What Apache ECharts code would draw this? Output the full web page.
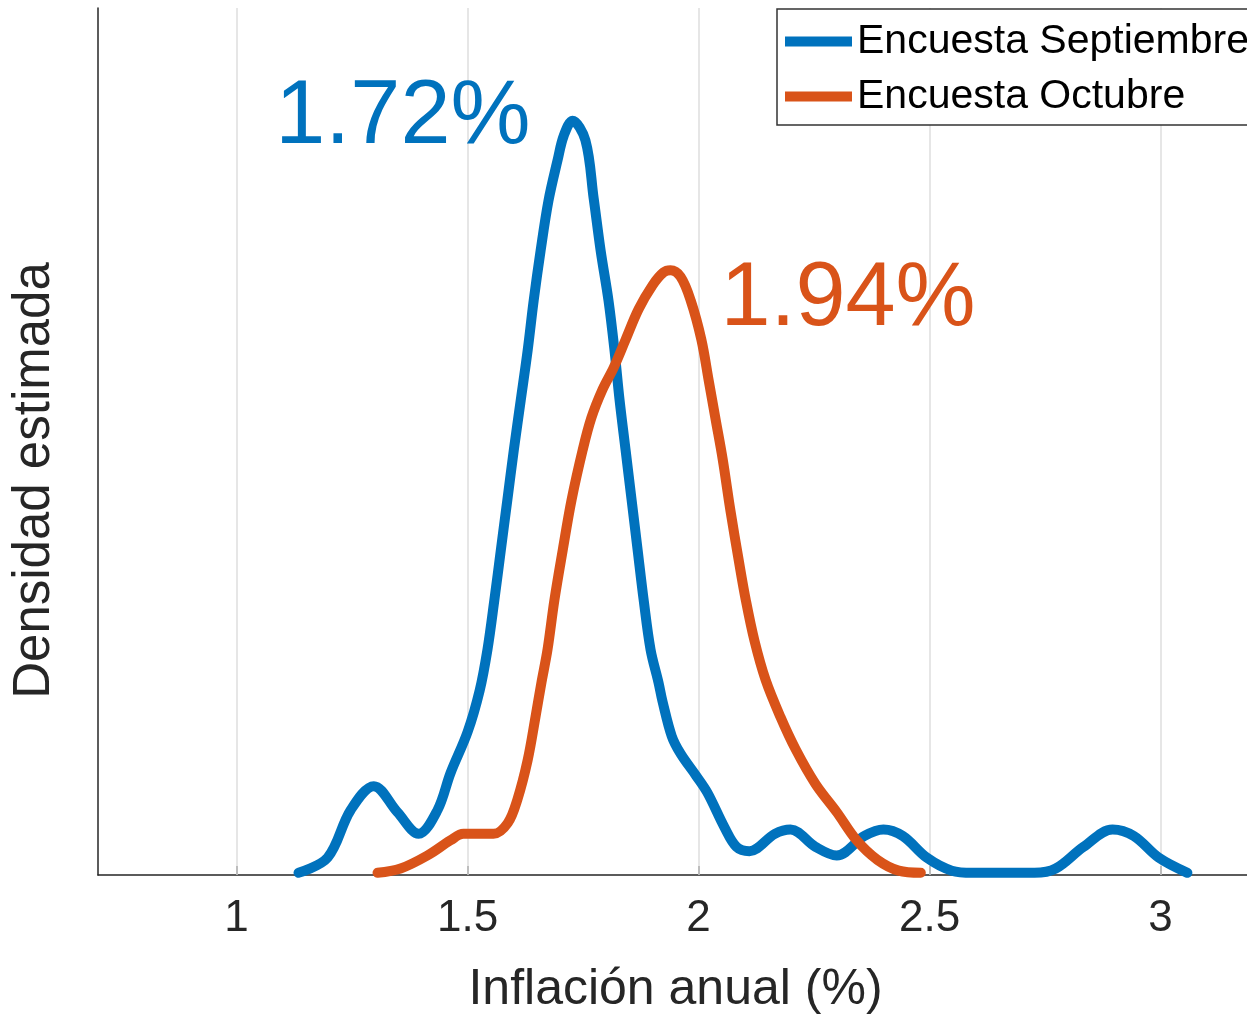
<!DOCTYPE html>
<html>
<head>
<meta charset="utf-8" />
<title>Densidad estimada</title>
<script src="https://cdn.jsdelivr.net/npm/echarts@6/dist/echarts.min.js"></script>
<style>
  html, body { margin: 0; padding: 0; background: #fff; }
  #chart { width: 1247px; height: 1014px; }
</style>
</head>
<body>
<div id="chart"></div>
<script>
// Encuesta Septiembre
const xSept = [1.134, 1.197, 1.247, 1.297, 1.348, 1.394, 1.435, 1.463, 1.5, 1.526, 1.543, 1.558,
  1.572, 1.586, 1.6, 1.615, 1.63, 1.643, 1.658, 1.675, 1.695, 1.708, 1.727, 1.755, 1.773, 1.788,
  1.805, 1.818, 1.829, 1.842, 1.855, 1.868, 1.881, 1.896, 1.913, 1.922, 1.942, 1.961, 1.994, 2.019, 2.056,
  2.082, 2.11, 2.165, 2.199, 2.253, 2.299, 2.359, 2.4, 2.442, 2.494, 2.548, 2.593, 2.727, 2.773,
  2.833, 2.896, 2.942, 2.996, 3.058];
const ySept = [0.01, 0.08, 0.3, 0.41, 0.29, 0.19, 0.3, 0.47, 0.66, 0.85, 1.04, 1.27,
  1.5, 1.73, 1.96, 2.19, 2.42, 2.65, 2.88, 3.11, 3.3, 3.41, 3.48, 3.39, 3.12, 2.88,
  2.65, 2.42, 2.19, 1.96, 1.73, 1.5, 1.27, 1.04, 0.89, 0.8, 0.64, 0.56, 0.46, 0.38, 0.22,
  0.13, 0.11, 0.19, 0.21, 0.13, 0.09, 0.18, 0.21, 0.18, 0.08, 0.02, 0.01, 0.01, 0.03,
  0.13, 0.21, 0.18, 0.08, 0.01];

// Encuesta Octubre
const xOct = [1.305, 1.355, 1.413, 1.463, 1.491, 1.556, 1.587, 1.608, 1.63, 1.647, 1.66, 1.673,
  1.688, 1.706, 1.725, 1.749, 1.768, 1.792, 1.816, 1.842, 1.87, 1.9, 1.924, 1.939, 1.961,
  1.983, 2.006, 2.022, 2.037, 2.052, 2.069, 2.087, 2.102, 2.121, 2.145, 2.177, 2.21, 2.253,
  2.299, 2.342, 2.387, 2.433, 2.481];
const yOct = [0.01, 0.03, 0.09, 0.16, 0.19, 0.19, 0.24, 0.35, 0.53, 0.73, 0.89, 1.04,
  1.27, 1.5, 1.73, 1.96, 2.11, 2.24, 2.34, 2.47, 2.61, 2.72, 2.78, 2.79, 2.76,
  2.65, 2.47, 2.28, 2.1, 1.92, 1.68, 1.45, 1.27, 1.08, 0.9, 0.73, 0.58, 0.42,
  0.29, 0.16, 0.07, 0.02, 0.01];

const seriesNames = ["Encuesta Septiembre", "Encuesta Octubre"];
const peakLabels = ["1.72%", "1.94%"];
const xTicks = [1, 1.5, 2, 2.5, 3];

const FONT = "'Liberation Sans', Arial, Helvetica, sans-serif";
const BLUE = "#0072BD";
const ORANGE = "#D95319";

function pairs(xs, ys) {
  return xs.map((x, i) => [x, ys[i]]);
}

function peakOf(xs, ys) {
  let k = 0;
  ys.forEach((v, i) => { if (v > ys[k]) k = i; });
  return [xs[k], ys[k]];
}

const chart = echarts.init(document.getElementById("chart"));

chart.setOption({
  animation: false,
  textStyle: { fontFamily: FONT },
  grid: {
    left: 98,
    right: -6,
    top: 8,
    bottom: 139,
    outerBoundsMode: "none",
    containLabel: false,
  },
  legend: {
    orient: "vertical",
    left: 777,
    top: 9,
    data: seriesNames,
    icon: "rect",
    itemWidth: 67,
    itemHeight: 10,
    itemGap: 14,
    padding: [12, 8, 8, 8],
    borderColor: "#333",
    borderWidth: 1.5,
    backgroundColor: "#fff",
    textStyle: { fontSize: 41, color: "#000", fontFamily: FONT },
  },
  xAxis: {
    type: "value",
    min: 0.7,
    max: 3.2,
    name: "Inflación anual (%)",
    nameLocation: "middle",
    nameGap: 90,
    nameTextStyle: { fontSize: 50, color: "#262626", fontFamily: FONT },
    axisLine: { onZero: false, lineStyle: { color: "#262626", width: 1.5 } },
    axisTick: {
      inside: true,
      length: 9,
      customValues: xTicks,
      lineStyle: { color: "#262626", width: 1.5 },
    },
    axisLabel: {
      customValues: xTicks,
      fontSize: 44,
      color: "#262626",
      margin: 22,
      fontFamily: FONT,
    },
    splitLine: { show: false },
  },
  yAxis: {
    type: "value",
    min: 0,
    max: 4,
    name: "Densidad estimada",
    nameLocation: "middle",
    nameGap: 38,
    nameTextStyle: { fontSize: 51, color: "#262626", fontFamily: FONT, padding: [0, 78, 0, 0] },
    axisLine: { show: true, lineStyle: { color: "#262626", width: 1.5 } },
    axisTick: { show: false },
    axisLabel: { show: false },
    splitLine: { show: false },
  },
  series: [
    {
      name: seriesNames[0],
      type: "line",
      data: pairs(xSept, ySept),
      smooth: 0.35,
      showSymbol: false,
      z: 3,
      lineStyle: { color: BLUE, width: 10, cap: "round", join: "round" },
      itemStyle: { color: BLUE },
      markLine: {
        silent: true,
        symbol: "none",
        label: { show: false },
        lineStyle: { color: "#dedede", width: 1.5, type: "solid" },
        data: xTicks.map((t) => ({ xAxis: t })),
        z: 1,
      },
      markPoint: {
        symbol: "circle",
        symbolSize: 0,
        data: [{ coord: peakOf(xSept, ySept) }],
        label: {
          show: true,
          formatter: peakLabels[0],
          position: "inside",
          align: "right",
          verticalAlign: "middle",
          offset: [-42, -3],
          fontSize: 90,
          color: BLUE,
          fontFamily: FONT,
        },
      },
    },
    {
      name: seriesNames[1],
      type: "line",
      data: pairs(xOct, yOct),
      smooth: 0.35,
      showSymbol: false,
      z: 4,
      lineStyle: { color: ORANGE, width: 10, cap: "round", join: "round" },
      itemStyle: { color: ORANGE },
      markPoint: {
        symbol: "circle",
        symbolSize: 0,
        data: [{ coord: peakOf(xOct, yOct) }],
        label: {
          show: true,
          formatter: peakLabels[1],
          position: "inside",
          align: "left",
          verticalAlign: "middle",
          offset: [50, 30],
          fontSize: 90,
          color: ORANGE,
          fontFamily: FONT,
        },
      },
    },
  ],
});
</script>
</body>
</html>
